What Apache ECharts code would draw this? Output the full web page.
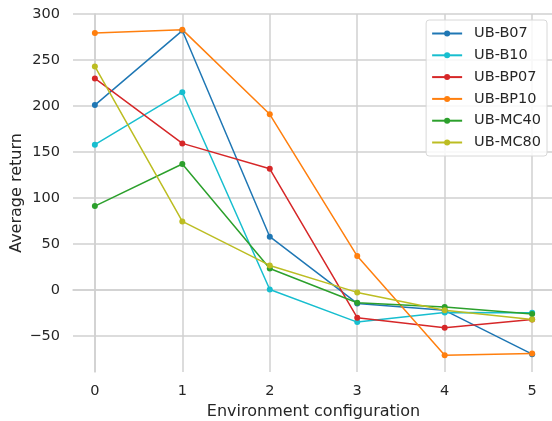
<!DOCTYPE html>
<html>
<head>
<meta charset="utf-8">
<script src="https://cdn.jsdelivr.net/npm/echarts@6/dist/echarts.min.js"></script>
<style>
    html, body { margin: 0; padding: 0; background: #fff; }
    #main { width: 552px; height: 421px; }
</style>
</head>
<body>
<div id="main"></div>
<script>
    // environment configurations on the x axis
    const configs = [0, 1, 2, 3, 4, 5];
    const yTicks = [-50, 0, 50, 100, 150, 200, 250, 300];

    // average return per configuration
    const ubB07 = [201, 282, 58, -14.5, -22, -69.6];
    const ubB10 = [158, 215, 0.7, -34.8, -24.3, -24.6];
    const ubBP07 = [230, 159.4, 131.8, -30, -41, -32];
    const ubBP10 = [279.3, 283, 191, 37, -70.7, -68.9];
    const ubMC40 = [91.3, 137, 23.5, -13.8, -18.5, -26];
    const ubMC80 = [243, 74.6, 26.8, -2.5, -22, -31.9];

    const names = ['UB-B07', 'UB-B10', 'UB-BP07', 'UB-BP10', 'UB-MC40', 'UB-MC80'];
    const values = [ubB07, ubB10, ubBP07, ubBP10, ubMC40, ubMC80];
    const colors = ['#1f77b4', '#17becf', '#d62728', '#ff7f0e', '#2ca02c', '#bcbd22'];

    const font = 'DejaVu Sans';
    const gridColor = '#d0d0d0';

    const myChart = echarts.init(document.getElementById('main'));
    const option = {
        color: colors,
        animation: false,
        grid: {
            left: 73,
            right: -2,
            top: 14,
            bottom: 49,
            outerBoundsMode: 'none'
        },
        legend: {
            orient: 'vertical',
            right: 5,
            top: 20,
            padding: [6, 6, 6, 5],
            itemWidth: 30,
            itemHeight: 7.5,
            itemGap: 6.8,
            backgroundColor: 'rgba(255,255,255,0.85)',
            borderColor: '#d8d8d8',
            borderWidth: 1,
            borderRadius: 3,
            textStyle: {
                fontFamily: font,
                fontSize: 14.5,
                lineHeight: 14,
                color: '#262626',
                padding: [0, 0, 0, 7]
            },
            data: names
        },
        xAxis: {
            type: 'value',
            min: -0.25,
            max: 5.25,
            name: 'Environment configuration',
            nameLocation: 'middle',
            nameGap: 32,
            nameMoveOverlap: false,
            nameTextStyle: { fontFamily: font, fontSize: 16, color: '#262626' },
            axisLine: { show: true, lineStyle: { color: gridColor, width: 1.5 } },
            axisTick: { show: false, customValues: configs },
            axisLabel: {
                customValues: configs,
                margin: 12,
                fontFamily: font,
                fontSize: 14.5,
                color: '#262626'
            },
            splitLine: { show: true, lineStyle: { color: gridColor, width: 1.5 } }
        },
        yAxis: {
            type: 'value',
            min: -89,
            max: 300,
            name: 'Average return',
            nameLocation: 'middle',
            nameGap: 48,
            nameMoveOverlap: false,
            nameTextStyle: { fontFamily: font, fontSize: 16, color: '#262626' },
            axisLine: { show: true, lineStyle: { color: gridColor, width: 1.5 } },
            axisTick: { show: false, customValues: yTicks },
            axisLabel: {
                customValues: yTicks,
                margin: 13,
                fontFamily: font,
                fontSize: 14.5,
                color: '#262626',
                formatter: function (v) { return v < 0 ? '\u2212' + Math.abs(v) : String(v); }
            },
            splitLine: { show: true, lineStyle: { color: gridColor, width: 1.5 } }
        },
        series: names.map(function (name, i) {
            return {
                name: name,
                type: 'line',
                data: configs.map(function (c, j) { return [c, values[i][j]]; }),
                symbol: 'circle',
                symbolSize: 6,
                showSymbol: true,
                lineStyle: { width: 1.5 },
                itemStyle: { color: colors[i] }
            };
        })
    };
    myChart.setOption(option);
</script>
</body>
</html>
